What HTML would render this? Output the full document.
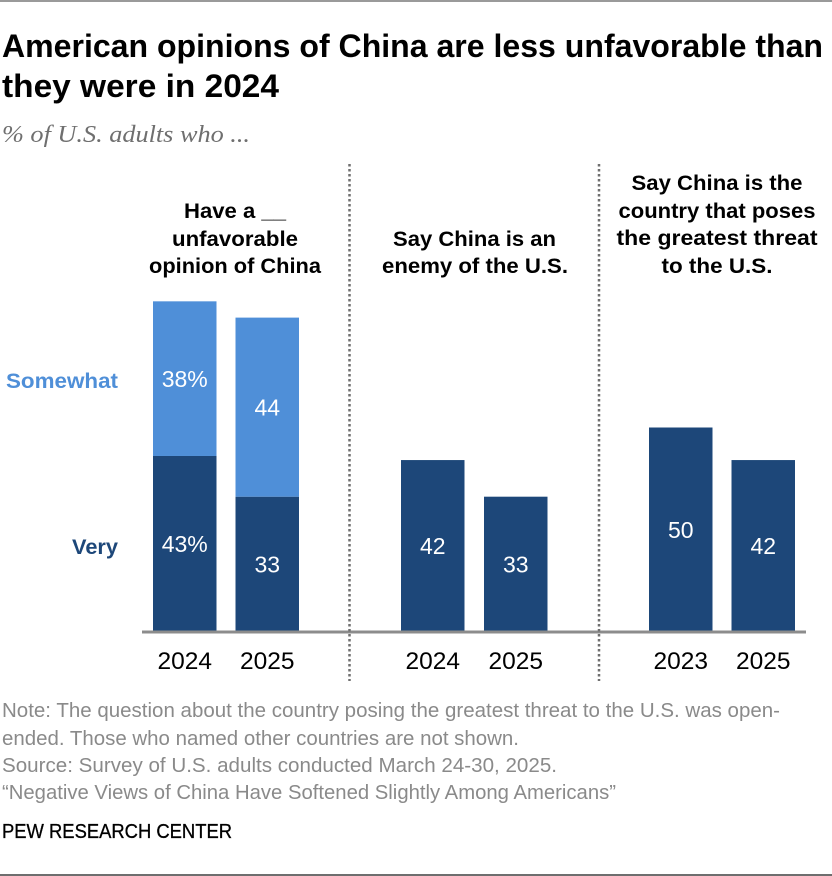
<!DOCTYPE html>
<html lang="en">
<head>
<meta charset="utf-8">
<title>American opinions of China</title>
<style>
html,body{margin:0;padding:0;background:#fff;width:832px;height:876px;overflow:hidden}
svg{display:block}
text{font-family:"Liberation Sans",sans-serif}
</style>
</head>
<body>
<svg id="chart" xmlns="http://www.w3.org/2000/svg" width="832" height="876" viewBox="0 0 832 876">
  <rect x="0" y="0" width="832" height="2" fill="#9a9a9a"/>
  <g font-size="32" font-weight="700" fill="#000">
    <text x="2" y="57" textLength="821" lengthAdjust="spacingAndGlyphs">American opinions of China are less unfavorable than</text>
    <text x="2" y="97" textLength="277" lengthAdjust="spacingAndGlyphs">they were in 2024</text>
  </g>
  <text x="2" y="142" font-size="24" font-style="italic" fill="#6f6f6f" textLength="248" lengthAdjust="spacingAndGlyphs" style="font-family:'Liberation Serif',serif">% of U.S. adults who ...</text>

  <g id="headers" font-size="21" font-weight="700" fill="#000" text-anchor="middle">
    <text x="235" y="218" textLength="102" lengthAdjust="spacingAndGlyphs">Have a __</text>
    <text x="235" y="246" textLength="126" lengthAdjust="spacingAndGlyphs">unfavorable</text>
    <text x="235" y="273" textLength="172" lengthAdjust="spacingAndGlyphs">opinion of China</text>
    <text x="474.500" y="246" textLength="163" lengthAdjust="spacingAndGlyphs">Say China is an</text>
    <text x="475" y="273" textLength="186" lengthAdjust="spacingAndGlyphs">enemy of the U.S.</text>
    <text x="717" y="190" textLength="171" lengthAdjust="spacingAndGlyphs">Say China is the</text>
    <text x="717" y="218" textLength="197" lengthAdjust="spacingAndGlyphs">country that poses</text>
    <text x="717" y="245" textLength="201" lengthAdjust="spacingAndGlyphs">the greatest threat</text>
    <text x="717" y="273" textLength="111" lengthAdjust="spacingAndGlyphs">to the U.S.</text>
  </g>

  <text x="118" y="388" font-size="21" font-weight="700" fill="#4f8fd8" text-anchor="end" textLength="112" lengthAdjust="spacingAndGlyphs">Somewhat</text>
  <text x="118" y="554" font-size="21" font-weight="700" fill="#1d4779" text-anchor="end" textLength="46" lengthAdjust="spacingAndGlyphs">Very</text>

  <g id="bars"></g>

  <rect x="142" y="630.500" width="664" height="3" fill="#8c8c8c"/>
  <line x1="349.500" y1="164" x2="349.500" y2="681" stroke="#6f6f6f" stroke-width="2.500" stroke-dasharray="2.500 2.500"/>
  <line x1="599" y1="164" x2="599" y2="681" stroke="#6f6f6f" stroke-width="2.500" stroke-dasharray="2.500 2.500"/>

  <g id="ticks"></g>

  <g font-size="20" fill="#8a8a8a">
    <text x="2" y="717" textLength="778" lengthAdjust="spacingAndGlyphs">Note: The question about the country posing the greatest threat to the U.S. was open-</text>
    <text x="2" y="745" textLength="517" lengthAdjust="spacingAndGlyphs">ended. Those who named other countries are not shown.</text>
    <text x="2" y="772" textLength="555" lengthAdjust="spacingAndGlyphs">Source: Survey of U.S. adults conducted March 24-30, 2025.</text>
    <text x="2" y="799" textLength="614" lengthAdjust="spacingAndGlyphs">“Negative Views of China Have Softened Slightly Among Americans”</text>
  </g>
  <text x="2" y="838" font-size="20" font-weight="400" fill="#000" stroke="#000" stroke-width="0.3" textLength="230" lengthAdjust="spacingAndGlyphs">PEW RESEARCH CENTER</text>
  <rect x="0" y="874" width="832" height="2" fill="#6e6e6e"/>
</svg>
<script>
var categories = ['2024', '2025', '2024', '2025', '2023', '2025'];
var veryValues = [43, 33, 42, 33, 50, 42];
var somewhatValues = [38, 44, null, null, null, null];
var veryLabels = ['43%', '33', '42', '33', '50', '42'];
var somewhatLabels = ['38%', '44', '', '', '', ''];

var SVGNS = 'http://www.w3.org/2000/svg';
var BASE_Y = 631;
var PX_PER_POINT = 4.07;
var BAR_WIDTH = 63.5;
var BAR_STARTS = [153, 235.5, 401, 484, 649, 731.5];

function y(v) { return BASE_Y - v * PX_PER_POINT; }
function h(v) { return v * PX_PER_POINT; }
function x(i) { return BAR_STARTS[i]; }

var barsG = document.getElementById('bars');
var ticksG = document.getElementById('ticks');

function addBar(i, start, value, color) {
  var r = document.createElementNS(SVGNS, 'rect');
  
  
  r.setAttribute('x', x(i));
  r.setAttribute('y', y(start + value));
  r.setAttribute('width', BAR_WIDTH);
  r.setAttribute('height', h(value));
  r.setAttribute('fill', color);
  barsG.appendChild(r);
}

function addValue(i, start, value, label) {
  var t = document.createElementNS(SVGNS, 'text');
  
  
  t.setAttribute('x', x(i) + BAR_WIDTH / 2);
  t.setAttribute('y', y(start + value / 2) + 8.5);
  t.setAttribute('text-anchor', 'middle');
  t.setAttribute('font-size', '23');
  t.setAttribute('fill', '#ffffff');
  t.textContent = label;
  barsG.appendChild(t);
}

categories.forEach(function (cat, i) {
  var very = veryValues[i];
  var some = somewhatValues[i];
  addBar(i, 0, very, '#1d4779');
  addValue(i, 0, very, veryLabels[i]);
  if (some !== null) {
    addBar(i, very, some, '#4f8fd8');
    addValue(i, very, some, somewhatLabels[i]);
  }
  var tick = document.createElementNS(SVGNS, 'text');
  
  
  tick.setAttribute('x', x(i) + BAR_WIDTH / 2);
  tick.setAttribute('y', 669);
  tick.setAttribute('text-anchor', 'middle');
  tick.setAttribute('font-size', '24.5');
  tick.setAttribute('fill', '#000');
  tick.textContent = cat;
  ticksG.appendChild(tick);
});
</script>
</body>
</html>
